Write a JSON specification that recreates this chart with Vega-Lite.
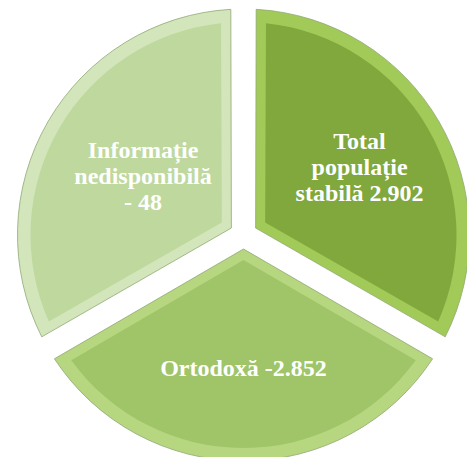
{
  "$schema": "https://vega.github.io/schema/vega-lite/v6.json",
  "width": 467,
  "height": 457,
  "autosize": {"type": "fit", "contains": "padding"},
  "padding": {"left": 20, "top": 13, "right": 0, "bottom": 0},
  "background": "white",
  "view": {"stroke": null},
  "data": {
    "values": [
      {"segment": "Total", "ord": 1, "share": 1, "label": "Total\npopulație\nstabilă 2.902"},
      {"segment": "Ortodoxa", "ord": 2, "share": 1, "label": "Ortodoxă -2.852"},
      {"segment": "Info", "ord": 3, "share": 1, "label": "Informație\nnedisponibilă\n- 48"}
    ]
  },
  "encoding": {
    "theta": {"field": "share", "type": "quantitative", "stack": true},
    "order": {"field": "ord", "type": "quantitative"}
  },
  "layer": [
    {
      "mark": {"type": "arc", "radius": 226, "radius2": 14, "padAngle": 0.112, "stroke": "#8fa874", "strokeWidth": 0.8},
      "encoding": {
        "color": {
          "field": "segment", "type": "nominal", "legend": null,
          "scale": {"domain": ["Total", "Ortodoxa", "Info"], "range": ["#a2ca58", "#b6d67f", "#d3e6bb"]}
        }
      }
    },
    {
      "mark": {"type": "arc", "radius": 213, "radius2": 25, "padAngle": 0.21},
      "encoding": {
        "color": {
          "field": "segment", "type": "nominal", "legend": null,
          "scale": {"domain": ["Total", "Ortodoxa", "Info"], "range": ["#80a83c", "#a0c468", "#bed89d"]}
        }
      }
    },
    {
      "mark": {"type": "text", "radius": 134, "dy": -26, "lineBreak": "\n", "font": "Liberation Serif", "fontWeight": "bold", "fontSize": 24, "fill": "white", "align": "center", "baseline": "middle", "lineHeight": 26},
      "encoding": {
        "text": {"condition": {"test": "datum.ord == 1", "field": "label"}, "value": ""}
      }
    },
    {
      "mark": {"type": "text", "radius": 116, "dy": -26, "lineBreak": "\n", "font": "Liberation Serif", "fontWeight": "bold", "fontSize": 24, "fill": "white", "align": "center", "baseline": "middle", "lineHeight": 26},
      "encoding": {
        "text": {"condition": {"test": "datum.ord == 3", "field": "label"}, "value": ""}
      }
    },
    {
      "mark": {"type": "text", "radius": 134, "font": "Liberation Serif", "fontWeight": "bold", "fontSize": 24, "fill": "white", "align": "center", "baseline": "middle"},
      "encoding": {
        "text": {"condition": {"test": "datum.ord == 2", "field": "label"}, "value": ""}
      }
    }
  ],
  "resolve": {"scale": {"color": "independent"}}
}
